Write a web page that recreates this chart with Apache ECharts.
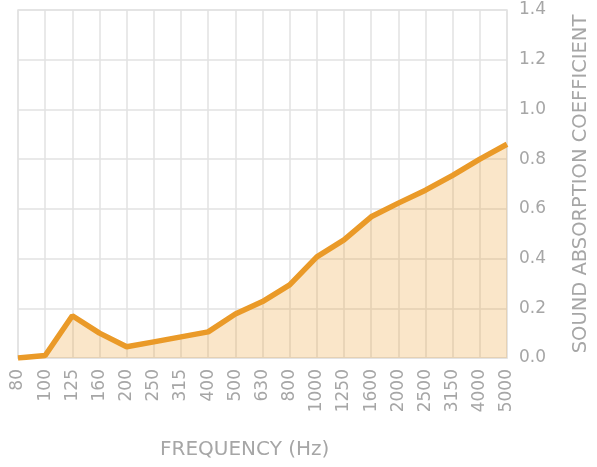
<!DOCTYPE html>
<html>
<head>
<meta charset="utf-8">
<script src="https://cdn.jsdelivr.net/npm/echarts@6/dist/echarts.min.js"></script>
<style>
  html, body { margin: 0; padding: 0; background: #fff; }
  #chart { width: 597px; height: 467px; }
</style>
</head>
<body>
<div id="chart"></div>
<script>
const frequencies = ['80', '100', '125', '160', '200', '250', '315', '400', '500', '630',
  '800', '1000', '1250', '1600', '2000', '2500', '3150', '4000', '5000'];
const absorption = [0, 0.01, 0.17, 0.10, 0.045, 0.065, 0.085, 0.105, 0.177, 0.227,
  0.294, 0.407, 0.475, 0.568, 0.623, 0.675, 0.735, 0.80, 0.86];

const gray = '#a6a6a6';
const gridColor = '#e2e2e2';
const font = 'DejaVu Sans';

const chart = echarts.init(document.getElementById('chart'));

chart.setOption({
  backgroundColor: '#fff',
  animation: false,
  grid: {
    left: 18,
    width: 489,
    top: 10,
    height: 348,
    outerBoundsMode: 'none',
    containLabel: false,
    show: true,
    borderColor: gridColor,
    borderWidth: 1.5
  },
  xAxis: {
    type: 'category',
    data: frequencies,
    boundaryGap: false,
    axisLine: { lineStyle: { color: gridColor, width: 1.5 } },
    axisTick: { show: false },
    axisLabel: {
      rotate: 90,
      color: gray,
      fontSize: 17,
      fontFamily: font,
      margin: 11,
      interval: 0
    },
    splitLine: { show: true, lineStyle: { color: gridColor, width: 1.5 } }
  },
  yAxis: {
    type: 'value',
    position: 'right',
    min: 0,
    max: 1.4,
    interval: 0.2,
    axisLine: { show: false },
    axisTick: { show: false },
    axisLabel: {
      color: gray,
      fontSize: 17,
      fontFamily: font,
      margin: 12,
      formatter: v => v.toFixed(1)
    },
    splitLine: { lineStyle: { color: gridColor, width: 1.5 } },
    name: 'SOUND ABSORPTION COEFFICIENT',
    nameLocation: 'middle',
    nameRotate: 90,
    nameGap: 64,
    nameTextStyle: { color: gray, fontSize: 19.5, fontFamily: font }
  },
  graphic: [{
    type: 'text',
    left: 160,
    top: 440,
    style: {
      text: 'FREQUENCY (Hz)',
      fill: gray,
      fontSize: 20,
      fontFamily: font
    }
  }],
  series: [{
    type: 'line',
    data: absorption,
    symbol: 'none',
    lineStyle: { color: '#ea9a28', width: 5.5 },
    areaStyle: { color: '#ec9a29', opacity: 0.25 },
    z: 3
  }]
});
</script>
</body>
</html>
